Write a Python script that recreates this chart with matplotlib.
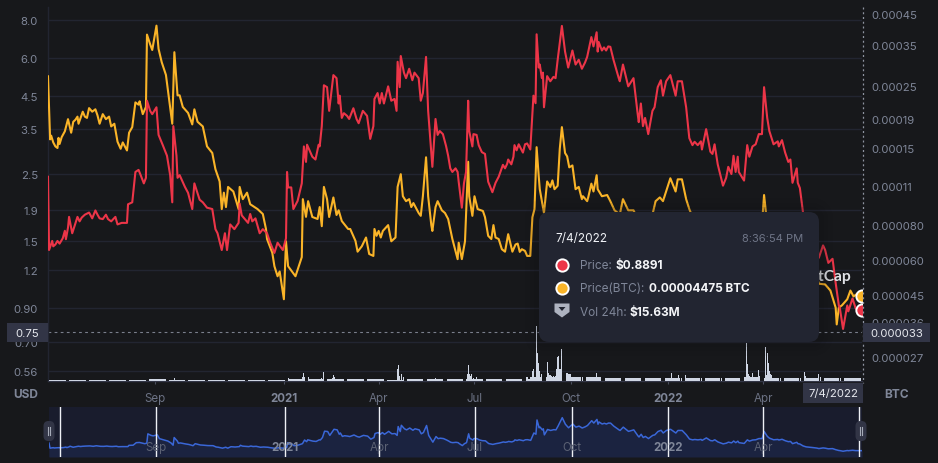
import numpy as np
import matplotlib
matplotlib.use("Agg")
import matplotlib.pyplot as plt
from matplotlib.patches import FancyBboxPatch, Rectangle, Polygon
from matplotlib.ticker import NullLocator, FixedLocator, FixedFormatter

plt.rcParams['font.family'] = ['Inter', 'DejaVu Sans']

# Daily history, as (days since the first session, value)
START = np.datetime64('2020-05-22')
LAST_DAY = 773

price_usd = [
 (0,2.44),(1,1.40),(4,1.50),(5,1.44),(7,1.46),(9,1.50),(11,1.47),(14,1.53),(16,1.62),(17,1.52),(19,1.66),(20,1.80),(23,1.59),(28,1.80),(30,1.74),(32,1.79),(35,1.83),(39,1.86),(42,1.78),(45,1.89),
 (47,1.83),(49,1.78),(52,1.77),(55,1.83),(57,1.77),(60,1.74),(62,1.77),(64,1.80),(66,1.70),(70,1.72),(75,1.72),(76,1.98),(80,2.01),(83,2.53),(86,2.57),(88,2.47),(91,2.32),
 (93,2.42),(94,4.34),(97,4.02),(99,3.92),(103,4.13),(105,3.35),(109,3.10),(113,2.86),(116,2.47),(118,2.01),(119,3.58),
 (122,2.86),(123,2.42),(125,2.47),(130,2.26),(133,2.16),(137,1.91),(139,2.32),(144,2.05),(147,2.01),(151,1.93),(156,1.91),
 (159,1.64),(161,1.59),(165,1.40),(168,1.59),(170,1.40),(172,1.59),(173,1.70),(177,1.64),(181,1.72),(182,1.99),(184,1.82),(187,1.77),(190,1.72),(192,1.84),
 (194,1.74),(197,1.78),(201,1.59),(204,1.64),(208,1.59),(211,1.48),(215,1.37),(218,1.48),(223,1.40),(226,1.53),(227,2.53),(228,2.25),
 (231,2.25),(233,1.91),(237,2.03),(239,2.17),(241,2.32),(243,3.07),(245,2.73),(246,3.11),(251,2.84),(254,2.78),(257,3.11),
 (258,3.07),(260,3.58),(262,4.88),(265,4.81),(267,4.02),(271,5.27),(274,5.15),(276,4.25),(277,4.51),(279,3.81),(281,3.95),(284,3.87),
 (286,3.78),(290,4.10),(293,3.78),(295,3.66),(299,4.02),(303,3.87),(306,3.25),(309,3.58),(310,4.40),(313,4.60),(315,4.25),
 (317,4.60),(319,4.25),(323,4.84),(326,4.34),(329,4.40),(331,4.02),(332,5.83),(334,4.81),(335,6.09),(338,5.37),(340,5.15),
 (343,5.53),(346,5.07),(348,5.37),(352,5.15),(354,4.34),(356,4.60),(359,6.05),(361,4.02),(365,2.63),(368,3.78),(370,3.35),
 (372,3.45),(375,3.37),(378,3.08),(380,2.86),(382,2.60),(384,2.53),(387,2.60),(389,2.53),(390,2.35),(393,1.93),(395,2.32),(397,2.53),(399,4.34),(400,3.45),(403,3.07),
 (404,3.37),(407,3.35),(409,3.10),(412,2.94),(415,2.90),(418,2.35),(422,2.17),(425,2.33),(428,2.44),(432,2.67),(434,2.60),(436,2.69),
 (437,2.78),(440,2.68),(442,2.84),(443,3.10),(445,2.98),(447,3.12),(451,2.93),(453,3.12),(455,3.14),(458,3.00),(461,4.51),(463,4.26),(464,7.18),
 (466,5.58),(467,5.71),(469,5.15),(470,5.37),(471,4.13),(474,5.23),(477,5.03),(480,5.20),(482,5.15),(484,5.92),(488,7.65),(491,6.30),
 (494,5.58),(498,6.35),(501,5.71),(504,5.92),(507,5.53),(510,5.80),(512,6.05),(516,7.03),(518,6.55),(521,7.29),(522,6.30),(523,6.77),
 (526,6.35),(528,6.50),(530,6.35),(532,6.55),(534,6.53),(537,5.92),(542,5.15),(543,5.03),(546,5.71),(551,4.84),(556,5.15),(560,3.92),(561,3.69),(563,4.25),
 (565,3.58),(567,3.81),(570,3.37),(574,4.02),(576,4.13),(579,4.81),(582,5.07),(584,4.51),(587,5.03),(591,5.27),(596,4.51),
 (598,5.03),(602,5.03),(606,4.13),(609,3.27),(612,3.10),(614,3.18),(617,3.10),(620,3.19),(621,3.00),(625,3.50),(629,2.95),(631,2.90),
 (633,3.12),(636,2.68),(641,2.28),(644,2.42),(646,2.63),(649,2.49),(651,2.86),(653,2.53),(655,2.84),(656,2.53),(661,2.37),
 (664,3.10),(666,2.84),(669,3.07),(672,3.12),(675,3.37),(678,3.37),(680,4.81),(683,3.81),(685,3.45),(689,3.12),(693,3.19),
 (694,3.07),(697,3.22),(700,2.93),(703,2.73),(705,2.78),(707,2.33),(711,2.60),(712,2.33),(714,2.24),(717,1.86),(720,1.66),
 (726,1.53),(730,1.42),(732,1.32),(736,1.45),(738,1.40),(741,1.27),(745,1.31),(748,1.09),(751,0.92),(752,0.90),(755,0.77),
 (759,0.92),(760,0.88),(764,0.97),(767,0.90),(769,0.89),(773,0.8891),
]

# Price in BTC, in units of 1e-5
price_btc = [
 (0,27.0),(2,16.1),(3,16.6),(5,15.7),(7,15.2),(9,15.0),(10,16.3),(11,15.5),(13,16.4),(16,17.2),(19,19.0),(22,17.0),(24,18.6),(26,18.9),(28,19.4),(29,18.3),
 (33,20.2),(35,19.4),(37,19.2),(39,20.8),(42,20.2),(45,20.6),(47,19.6),(49,18.3),(52,19.8),(55,19.0),(58,19.4),(60,17.9),(63,18.3),(66,15.8),(69,14.9),
 (71,15.7),(75,14.7),(77,17.0),(80,17.8),(83,21.8),(86,21.4),(87,22.0),(90,19.8),(93,21.0),(94,38.0),(97,35.1),(99,33.5),
 (103,40.9),(105,33.8),(108,30.3),(112,27.3),(116,21.0),(118,18.3),(120,32.9),(122,25.8),(123,23.1),(125,23.1),(128,21.0),
 (133,20.0),(137,18.2),(139,20.6),(142,18.6),(147,17.9),(151,15.2),(156,14.4),(159,12.6),(163,11.4),(165,9.09),(167,10.4),
 (169,9.24),(171,10.9),(176,10.5),(181,9.09),(182,10.9),(185,9.86),(189,10.4),(192,9.46),(199,9.09),(204,8.73),(207,7.72),
 (208,7.11),(213,6.35),(215,5.69),(218,5.24),(220,5.45),(224,4.34),(226,6.98),(228,5.69),(235,5.24),(241,6.13),(242,9.86),
 (245,8.53),(247,9.70),(251,8.52),(256,8.38),(258,9.24),(260,7.90),(262,10.9),(265,9.86),(267,8.52),(271,10.0),(274,8.66),
 (276,9.00),(279,8.24),(285,7.72),(287,7.72),(292,7.00),(294,6.41),(298,6.70),(302,7.20),(305,6.29),(309,6.19),(310,7.72),
 (312,7.30),(314,7.60),(316,7.20),(318,7.60),(323,7.97),(326,6.98),(330,7.20),(332,10.9),(335,12.1),(337,10.1),(340,9.70),(343,9.86),(345,9.24),
 (347,9.55),(352,8.80),(354,8.60),(356,10.1),(359,13.9),(361,10.1),(364,7.97),(365,7.60),(368,9.24),(370,9.70),(374,9.00),(377,8.80),
 (380,8.38),(384,7.11),(389,6.03),(390,6.90),(393,6.03),(396,6.98),(399,13.4),(400,10.1),(403,8.60),(405,10.1),(408,9.09),
 (413,8.95),(415,8.50),(418,7.30),(421,7.11),(423,7.97),(425,7.20),(428,7.11),(431,6.54),(434,6.41),(437,7.40),(441,6.41),
 (444,6.80),(446,6.85),(448,6.40),(450,6.54),(453,6.45),(455,6.19),(458,6.19),(460,8.50),(462,9.09),(464,15.1),(466,11.9),(467,10.7),(471,8.80),(474,11.4),
 (477,10.9),(479,11.5),(481,10.7),(484,11.0),(486,14.9),(488,17.8),(491,14.4),(493,14.0),(495,12.8),(498,13.0),(501,10.7),
 (504,10.9),(507,9.86),(508,10.1),(512,9.70),(513,10.0),(516,11.2),(518,10.5),(521,12.0),(522,10.7),(526,10.1),(531,10.2),
 (534,9.70),(538,9.00),(543,8.70),(546,9.86),(551,9.00),(556,9.00),(562,8.10),(570,7.50),(577,9.70),(581,10.0),(584,9.70),
 (591,11.7),(596,10.5),(598,11.6),(602,11.6),(606,9.86),(609,9.09),(615,8.00),(624,8.20),(633,7.70),(643,7.20),(653,7.60),
 (662,7.10),(672,7.30),(678,8.00),(680,10.2),(682,8.70),(691,7.80),(700,7.20),(710,7.60),(717,7.00),(724,5.90),(729,5.40),
 (732,4.93),(738,4.90),(743,4.66),(748,4.05),(749,3.53),(751,4.05),(754,4.13),(759,4.34),(762,4.66),(765,4.44),(769,4.56),
 (773,4.475),
]

# 24h volume in millions of USD: each quiet stretch ends at the first day of the list below it
volume_breaks = [19,38,57,76,94,113,132,151,170,188,207,226,245,263,282,301,320,338,357,376,395,414,432,451,470,489,507,
                 526,545,564,583,601,620,639,658,677,695,714,733,752,774]
volume_levels = [5,5,5,5,6,8,5,5,5,5,5,5,10,12,12,8,8,7,8,8,8,9,9,8,22,22,22,20,15,15,15,13,14,15,17,18,15,14,13,14,15]
volume_spikes = {
 95:10,97:10,100:10,102:10,120:17,227:37,228:14,242:18,243:42,244:20,247:22,248:12,260:17,262:47,263:15,270:17,271:30,272:20,
 332:58,333:78,334:25,336:33,338:18,358:72,359:14,368:17,398:33,399:78,400:35,401:25,402:33,404:17,407:22,456:12,457:12,
 460:50,461:58,462:20,464:275,465:140,466:90,467:50,468:22,469:33,471:28,472:50,474:95,475:40,476:30,477:28,478:25,480:25,
 482:25,483:58,484:120,485:125,486:58,487:60,488:158,490:83,491:75,492:42,493:38,494:35,495:35,496:33,521:42,592:42,599:30,
 605:28,663:188,664:87,665:35,666:25,669:42,675:53,676:25,679:53,681:172,682:30,683:142,684:92,685:50,686:35,687:28,718:47,
 719:25,732:33,734:20,773:15.63,
}

usd_ticks = [8.0, 6.0, 4.5, 3.5, 2.5, 1.9, 1.5, 1.2, 0.90, 0.70, 0.56]
usd_labels = ['8.0', '6.0', '4.5', '3.5', '2.5', '1.9', '1.5', '1.2', '0.90', '0.70', '0.56']
btc_ticks = [4.5e-4, 3.5e-4, 2.5e-4, 1.9e-4, 1.5e-4, 1.1e-4, 8e-5, 6e-5, 4.5e-5, 3.6e-5, 2.7e-5]
btc_labels = ['0.00045', '0.00035', '0.00025', '0.00019', '0.00015', '0.00011',
              '0.000080', '0.000060', '0.000045', '0.000036', '0.000027']
time_ticks = ['2020-09-01', '2021-01-01', '2021-04-01', '2021-07-01', '2021-10-01', '2022-01-01', '2022-04-01']
time_labels = ['Sep', '2021', 'Apr', 'Jul', 'Oct', '2022', 'Apr']
nav_lines = ['2020-06-01'] + time_ticks + ['2022-07-01']

BG = '#17181b'
GRID = '#222531'
GREY = '#7f8698'
RED = '#ec3548'
GOLD = '#fab428'
PANEL = '#222531'
TAG = '#323546'
W, H = 938, 464


def px_axes(x0, y0, x1, y1, z):
    return fig.add_axes([x0 / W, 1 - y1 / H, (x1 - x0) / W, (y1 - y0) / H], zorder=z)


def to_dates(days):
    return START + np.asarray(days).astype('timedelta64[D]')


price_days, price_vals = map(np.array, zip(*price_usd))
btc_days, btc_vals = map(np.array, zip(*price_btc))
btc_vals = btc_vals * 1e-5

vol_days, vol_vals = [], []
first = 0
for stop, level in zip(volume_breaks, volume_levels):
    for d in range(first, stop):
        vol_days.append(d)
        vol_vals.append(level)
    first = stop + 1
lookup = dict(zip(vol_days, vol_vals))
lookup.update(volume_spikes)
vol_days = sorted(lookup)
vol_vals = [lookup[d] for d in vol_days]

fig = plt.figure(figsize=(W / 100, H / 100), dpi=100, facecolor=BG)
xlim = (START, START + np.timedelta64(LAST_DAY, 'D'))
X0, X1, Y0, Y1 = 48, 862, 8, 382

# Base panel: USD ticks, gridlines and the time axis
ax = px_axes(X0, Y0, X1, Y1, 1)
ax.set_facecolor(BG)
ax.set_yscale('log')
ax.set_ylim(0.519, 8.83)
ax.set_xlim(*xlim)
ax.yaxis.set_major_locator(FixedLocator(usd_ticks))
ax.yaxis.set_major_formatter(FixedFormatter(usd_labels))
ax.yaxis.set_minor_locator(NullLocator())
ax.grid(axis='y', color=GRID, lw=1.0)
ax.tick_params(axis='y', length=0, pad=7.2, labelsize=8.2, labelcolor=GREY)
ax.set_xticks([np.datetime64(t) for t in time_ticks])
ax.set_xticklabels(time_labels)
ax.tick_params(axis='x', length=2.2, width=0.8, color='#4a4e5e', pad=5.8, labelsize=8.3, labelcolor='#6c7284')
for lab, txt in zip(ax.get_xticklabels(), time_labels):
    if txt.isdigit():
        lab.set_fontweight('bold')
        lab.set_color(GREY)
for name, sp in ax.spines.items():
    sp.set_visible(name in ('left', 'bottom'))
    sp.set_color(GRID if name == 'left' else TAG)
    sp.set_linewidth(1.0)
ax.axhline(0.75, color='#7a7f8c', lw=0.8, dashes=(2.5, 3))

# Volume bars along the floor of the panel
ax_vol = px_axes(X0, Y0, X1, Y1, 2)
ax_vol.patch.set_visible(False)
ax_vol.set_xlim(*xlim)
ax_vol.set_ylim(0, 1870)
ax_vol.axis('off')
ax_vol.bar(to_dates(vol_days), vol_vals, width=0.85, color='#cfd6e4', linewidth=0)

# BTC-quoted price with its own right-hand scale
ax_btc = px_axes(X0, Y0, X1, Y1, 3)
ax_btc.patch.set_visible(False)
ax_btc.set_yscale('log')
ax_btc.set_ylim(2.22e-5, 47.66e-5)
ax_btc.set_xlim(*xlim)
ax_btc.plot(to_dates(btc_days), btc_vals, color=GOLD, lw=1.5, solid_joinstyle='round')
ax_btc.yaxis.tick_right()
ax_btc.yaxis.set_major_locator(FixedLocator(btc_ticks))
ax_btc.yaxis.set_major_formatter(FixedFormatter(btc_labels))
ax_btc.yaxis.set_minor_locator(NullLocator())
ax_btc.tick_params(axis='y', length=0, pad=6.8, labelsize=8.2, labelcolor=GREY)
ax_btc.set_xticks([])
for sp in ax_btc.spines.values():
    sp.set_visible(False)

# USD price on top
ax_usd = px_axes(X0, Y0, X1, Y1, 4)
ax_usd.patch.set_visible(False)
ax_usd.set_yscale('log')
ax_usd.set_ylim(0.519, 8.83)
ax_usd.set_xlim(*xlim)
ax_usd.plot(to_dates(price_days), price_vals, color=RED, lw=1.5, solid_joinstyle='round')
ax_usd.axis('off')

# Range selector strip, the USD price on a linear scale
ax_nav = px_axes(X0 + 1, 408, X1, 458, 5)
ax_nav.set_facecolor('#191c2d')
ax_nav.set_xlim(*xlim)
ax_nav.set_ylim(-0.41, 9.84)
ax_nav.fill_between(to_dates(price_days), price_vals, -0.41, color='#1b2340', lw=0)
ax_nav.plot(to_dates(price_days), price_vals, color='#3a67d8', lw=1.1)
ax_nav.set_xticks([])
ax_nav.set_yticks([])
for sp in ax_nav.spines.values():
    sp.set_visible(False)
for t in nav_lines:
    ax_nav.axvline(np.datetime64(t), color='#eef0f5', lw=1.0, zorder=3)
for t, txt in zip(time_ticks, time_labels):
    bold = txt.isdigit()
    ax_nav.annotate(txt, (np.datetime64(t), 1), xycoords=ax_nav.get_xaxis_transform(), xytext=(0, -28.5),
                    textcoords='offset points', ha='center', va='center', fontsize=8.3,
                    color='#7f8698' if bold else '#5c6274', fontweight='bold' if bold else 'normal', zorder=4)

# Overlay in figure pixels: watermark, tooltip, readout tags and selector handles
top = px_axes(0, 0, W, H, 10)
top.set_xlim(0, W)
top.set_ylim(H, 0)
top.axis('off')

top.text(851, 277.5, 'CoinMarketCap', ha='right', va='center', fontsize=11.2, fontweight='bold', color='#dfe1e6', zorder=1,
         family=['Lato', 'DejaVu Sans'])

for grow, alpha in ((14, 0.05), (9, 0.08), (5, 0.12)):
    top.add_patch(FancyBboxPatch((539 - grow, 213 - grow), 280 + 2 * grow, 130 + 2 * grow,
                                 boxstyle=f'round,pad=0,rounding_size={10 + grow}', fc='#101114', ec='none',
                                 alpha=alpha, zorder=2))
top.add_patch(FancyBboxPatch((539, 213), 280, 130, boxstyle='round,pad=0,rounding_size=10', fc=PANEL, ec='none', zorder=3))

txt = dict(va='center', fontsize=8.5, zorder=5)
top.text(555, 239, '7/4/2022', color='#f0f2f6', **txt)
top.text(803, 239, '8:36:54 PM', color='#6f7587', ha='right', **{**txt, 'fontsize': 8.0})
top.text(580, 266.5, 'Price:', color=GREY, **txt)
top.text(616, 266.5, '$0.8891', color='#f4f5f8', fontweight='bold', **txt)
top.text(580, 289.5, 'Price(BTC):', color=GREY, **txt)
top.text(649, 289.5, '0.00004475 BTC', color='#f4f5f8', fontweight='bold', **txt)
top.text(580, 313.5, 'Vol 24h:', color=GREY, **txt)
top.text(630, 313.5, '$15.63M', color='#f4f5f8', fontweight='bold', **txt)

top.scatter([562], [265.5], s=78, color=RED, edgecolors='white', linewidths=1.4, zorder=5)
top.scatter([562], [288.5], s=78, color=GOLD, edgecolors='white', linewidths=1.4, zorder=5)
top.add_patch(Polygon([(554.5, 304.5), (569.5, 304.5), (569.5, 313), (562, 318.5), (554.5, 313)], fc='#aeb3c0', ec='none', zorder=5))
top.add_patch(Polygon([(558.5, 308), (565.5, 308), (562, 312)], fc=PANEL, ec='none', zorder=6))

# Crosshair readouts
for box, label, cx in (((7, 324, 41, 19), '0.75', 27), ((863, 324, 67, 19), '0.000033', 897), ((803, 384, 60, 20), '7/4/2022', 833)):
    top.add_patch(Rectangle(box[:2], box[2], box[3], fc=TAG, ec='none', zorder=5))
    top.text(cx, box[1] + box[3] / 2 + 0.3, label, ha='center', va='center', fontsize=8.2,
             color='#e6e8ee', zorder=6)
top.plot([862.5, 862.5], [8, 384], color='#8e93a0', lw=0.9, dashes=(1.6, 2.2), zorder=4)

top.text(26, 395, 'USD', ha='center', va='center', fontsize=8.6, fontweight='bold', color=GREY)
top.text(897, 395, 'BTC', ha='center', va='center', fontsize=8.6, fontweight='bold', color=GREY)

for cx in (49, 861):
    top.add_patch(FancyBboxPatch((cx - 5.5, 422), 11, 20, boxstyle='round,pad=0,rounding_size=5', fc=TAG, ec='none', zorder=6))
    for dx in (-1.2, 1.2):
        top.plot([cx + dx, cx + dx], [428, 436], color='#a6abb8', lw=0.8, zorder=7)

# Latest readings sit on the right edge of the panel and are clipped by it
ax_btc.scatter([to_dates(btc_days)[-1]], [btc_vals[-1]], s=78, color=GOLD, edgecolors='white', linewidths=1.4, zorder=6)
ax_usd.scatter([to_dates(price_days)[-1]], [price_vals[-1]], s=78, color=RED, edgecolors='white', linewidths=1.4, zorder=6)

fig.savefig('out.png', dpi=100, facecolor=BG)
